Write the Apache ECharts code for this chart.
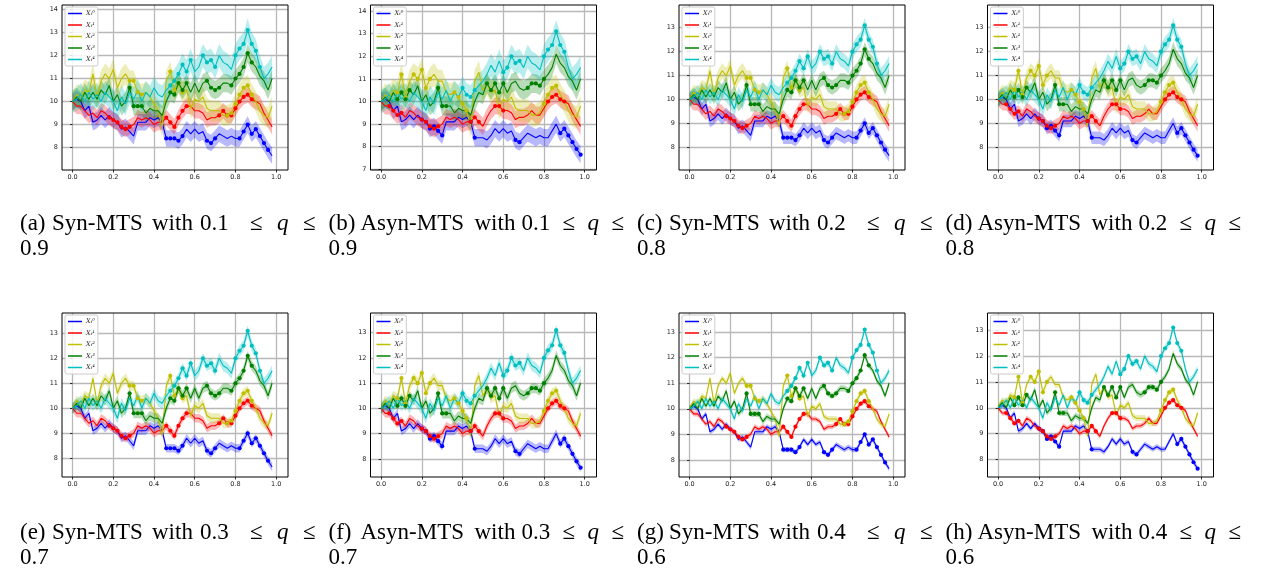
<!DOCTYPE html>
<html><head><meta charset="utf-8">
<script src="https://cdn.jsdelivr.net/npm/echarts@6/dist/echarts.min.js"></script>
<style>html,body{margin:0;padding:0;background:#fff}#c{width:1267px;height:571px}</style>
</head><body><div id="c"></div>
<script>
// time step of the series (x values)
const STEP = 0.02;
const seriesNames = ['Xₜ⁰','Xₜ¹','Xₜ²','Xₜ³','Xₜ⁴'];
const lineColors = ['#0000ff','#ff0000','#bfbf00','#008000','#00bfbf'];
const bandColors = ['rgba(0,0,255,0.28)','rgba(255,0,0,0.28)','rgba(191,191,0,0.28)','rgba(0,128,0,0.28)','rgba(0,191,191,0.28)'];

const x0 = [10.0,10.1,10.0,9.6,9.8,9.1,9.2,9.4,9.2,9.4,9.2,9.1,8.8,8.9,8.7,8.5,9.1,9.1,9.1,9.3,9.2,9.3,9.1,8.4,8.4,8.4,8.3,8.5,8.8,8.6,8.8,8.6,8.7,8.3,8.2,8.4,8.6,8.5,8.4,8.5,8.4,8.4,8.7,9.0,8.6,8.8,8.5,8.2,7.9,7.65];
const x1 = [10.0,9.8,9.8,9.6,9.4,9.5,9.3,9.6,9.5,9.3,9.2,9.1,8.9,8.8,8.9,9.0,9.3,9.2,9.3,9.2,9.0,9.1,9.1,9.3,9.1,8.9,9.3,9.6,9.8,9.8,9.6,9.6,9.5,9.2,9.3,9.3,9.4,9.6,9.4,9.4,9.7,10.0,10.2,10.3,10.1,10.0,9.9,9.5,9.2,8.9];
const x2 = [10.0,10.3,10.2,10.5,10.4,11.2,10.2,10.9,11.2,11.0,11.4,10.6,11.0,11.2,10.9,10.9,10.4,10.3,10.4,10.2,9.9,9.6,8.9,10.9,11.3,10.5,10.8,10.4,10.5,9.7,10.1,10.0,10.2,9.7,9.6,9.6,9.6,9.4,9.4,9.5,9.9,10.3,10.6,10.7,10.3,10.0,9.6,9.4,9.3,9.8];
const x3 = [10.0,10.2,10.0,10.4,10.1,10.4,10.1,10.5,10.3,10.7,10.0,10.3,9.8,10.0,10.6,9.8,9.8,9.8,9.5,9.7,9.6,9.6,9.4,10.0,10.4,10.3,10.8,10.5,10.8,10.4,10.8,10.4,10.8,10.9,10.6,10.5,10.6,10.8,10.8,10.7,11.0,11.2,11.5,12.1,11.7,11.5,11.1,10.9,10.5,11.0];
const x4 = [10.0,10.1,10.3,10.0,10.4,10.1,10.3,10.0,10.4,10.2,10.0,9.6,10.2,9.9,10.4,10.1,10.5,10.0,10.4,10.2,10.6,10.3,10.2,10.5,10.7,10.9,11.2,11.6,11.3,11.8,11.3,11.5,12.0,11.7,11.8,11.5,12.0,11.7,11.6,11.4,12.0,12.3,12.5,13.1,12.5,12.2,11.5,11.0,11.2,11.5];
const means = [x0,x1,x2,x3,x4];

// panel captions
const panelLetters = ['(a)','(b)','(c)','(d)','(e)','(f)','(g)','(h)'];
const panelMethods = ['Syn-MTS','Asyn-MTS','Syn-MTS','Asyn-MTS','Syn-MTS','Asyn-MTS','Syn-MTS','Asyn-MTS'];
const qLow = ['0.1','0.1','0.2','0.2','0.3','0.3','0.4','0.4'];
const qHigh = ['0.9','0.9','0.8','0.8','0.7','0.7','0.6','0.6'];

// y axis extents and ticks per panel
const yMin = [7.03,6.97,7.05,7.05,7.25,7.28,7.33,7.33];
const yMax = [14.19,14.27,13.95,13.95,13.81,13.78,13.75,13.66];
const yTicksA = [8,9,10,11,12,13,14];
const yTicksB = [7,8,9,10,11,12,13,14];
const yTicksC = [8,9,10,11,12,13];
const yTicks = [yTicksA,yTicksB,yTicksC,yTicksC,yTicksC,yTicksC,yTicksC,yTicksC];
const xTicks = [0,0.2,0.4,0.6,0.8,1.0];

// band half-widths per panel [X0..X4]
const bandA = [0.36,0.34,0.45,0.40,0.50];
const bandB = [0.38,0.38,0.50,0.42,0.52];
const bandC = [0.26,0.26,0.32,0.30,0.32];
const bandD = [0.26,0.26,0.32,0.30,0.32];
const bandE = [0.17,0.17,0.20,0.20,0.22];
const bandF = [0.17,0.17,0.20,0.20,0.22];
const bandG = [0.10,0.10,0.12,0.12,0.13];
const bandH = [0.10,0.10,0.12,0.12,0.13];
const bands = [bandA,bandB,bandC,bandD,bandE,bandF,bandG,bandH];

// index ranges of marked (imputed) points
const synMarks = [[[23,27],[33,35],[41,48]],[[9,14],[23,28],[36,44]],[[14,17],[24,27],[38,44]],[[14,17],[24,28],[33,36],[39,44]],[[24,29],[32,35],[40,46]]];
const asynMarks = [[[10,15],[22,23],[33,34],[44,49]],[[2,5],[10,14],[22,24],[28,30],[41,45]],[[4,6],[8,12],[18,21],[40,43]],[[4,7],[14,16],[26,30],[36,40]],[[20,23],[30,34],[40,45]]];

const T = x0.map((_, i) => +(i * STEP).toFixed(2));

const colLeft = [62, 370.5, 679, 987.5];
const rowTop = [5, 313];
const rowH = [165, 164];
const W = 226;
const SERIF = "'Liberation Serif', 'Times New Roman', serif";

const grids = [], xAxes = [], yAxes = [], series = [], legends = [], graphics = [];
for (let p = 0; p < 8; p++) {
  const c = p % 4, r = Math.floor(p / 4);
  grids.push({left: colLeft[c], top: rowTop[r], width: W, height: rowH[r], show: true, borderColor: '#000', borderWidth: 1, backgroundColor: 'transparent', z: 3});
  xAxes.push({type: 'value', gridIndex: p, min: -0.052, max: 1.058,
    axisLine: {show: false},
    axisTick: {show: true, customValues: xTicks, length: 2.5, inside: false, lineStyle: {color: '#000', width: 0.8}},
    axisLabel: {customValues: xTicks, fontFamily: 'DejaVu Sans', fontSize: 6.5, color: '#222', margin: 4, formatter: v => v.toFixed(1)},
    splitLine: {show: true, lineStyle: {color: '#b8b8b8', width: 1.3}}});
  yAxes.push({type: 'value', gridIndex: p, min: yMin[p], max: yMax[p],
    axisLine: {show: false},
    axisTick: {show: true, customValues: yTicks[p], length: 2.5, lineStyle: {color: '#000', width: 0.8}},
    axisLabel: {customValues: yTicks[p], fontFamily: 'DejaVu Sans', fontSize: 6.5, color: '#222', margin: 4},
    splitLine: {show: true, lineStyle: {color: '#b8b8b8', width: 1.3}}});
  const marks = (p % 2 === 0) ? synMarks : asynMarks;
  for (let s = 0; s < 5; s++) {
    const m = means[s], w = bands[p][s], col = bandColors[s];
    series.push({type: 'custom', name: 'band' + p + '_' + s, xAxisIndex: p, yAxisIndex: p, silent: true, z: 1,
      data: [[T[0], m[0]]], clip: true,
      renderItem: function (params, api) {
        const pts = [];
        for (let i = 0; i < m.length; i++) pts.push(api.coord([T[i], m[i] + w]));
        for (let i = m.length - 1; i >= 0; i--) pts.push(api.coord([T[i], m[i] - w]));
        return {type: 'polygon', shape: {points: pts}, style: {fill: col}};
      }});
  }
  for (let s = 0; s < 5; s++) {
    const rng = marks[s];
    series.push({type: 'line', name: seriesNames[s], xAxisIndex: p, yAxisIndex: p, z: 2,
      data: means[s].map((v, i) => [T[i], v]),
      symbol: 'circle', showSymbol: true,
      symbolSize: (val, prm) => rng.some(q => prm.dataIndex >= q[0] && prm.dataIndex <= q[1]) ? 4.2 : 0,
      lineStyle: {color: lineColors[s], width: 1.1}, itemStyle: {color: lineColors[s]},
      emphasis: {disabled: true}, animation: false});
  }
  legends.push({data: seriesNames, left: colLeft[c] + 3, top: rowTop[r] + 2, orient: 'vertical',
    icon: 'rect', itemWidth: 14, itemHeight: 1.5, itemGap: 4.5,
    backgroundColor: 'rgba(255,255,255,0.85)', borderColor: '#ccc', borderWidth: 1, borderRadius: 2, padding: [3, 3, 3, 3],
    textStyle: {fontFamily: 'DejaVu Serif', fontStyle: 'italic', fontSize: 6.5, color: '#222', padding: [0, 0, 0, -1]},
    selectedMode: false, z: 10});

  // captions
  const cx = 20 + c * 308.5;
  const cy = r === 0 ? 223 : 532;
  const syn = p % 2 === 0;
  const offs = syn ? [0, 32, 132, 180, 230, 257, 283] : [0, 32, 146, 193, 234, 259, 283];
  const words = [panelLetters[p], panelMethods[p], 'with', qLow[p], '≤', 'q', '≤'];
  words.forEach((wd, k) => {
    graphics.push({type: 'text', left: cx + offs[k], top: cy - 11, style: {text: wd, fontFamily: SERIF, fontSize: 23, fontStyle: k === 5 ? 'italic' : 'normal', fill: '#000'}});
  });
  graphics.push({type: 'text', left: cx, top: cy + 14, style: {text: qHigh[p], fontFamily: SERIF, fontSize: 23, fill: '#000'}});
}

const chart = echarts.init(document.getElementById('c'), null, {renderer: 'canvas'});
chart.setOption({animation: false, grid: grids, xAxis: xAxes, yAxis: yAxes, series: series, legend: legends, graphic: graphics});
</script></body></html>
